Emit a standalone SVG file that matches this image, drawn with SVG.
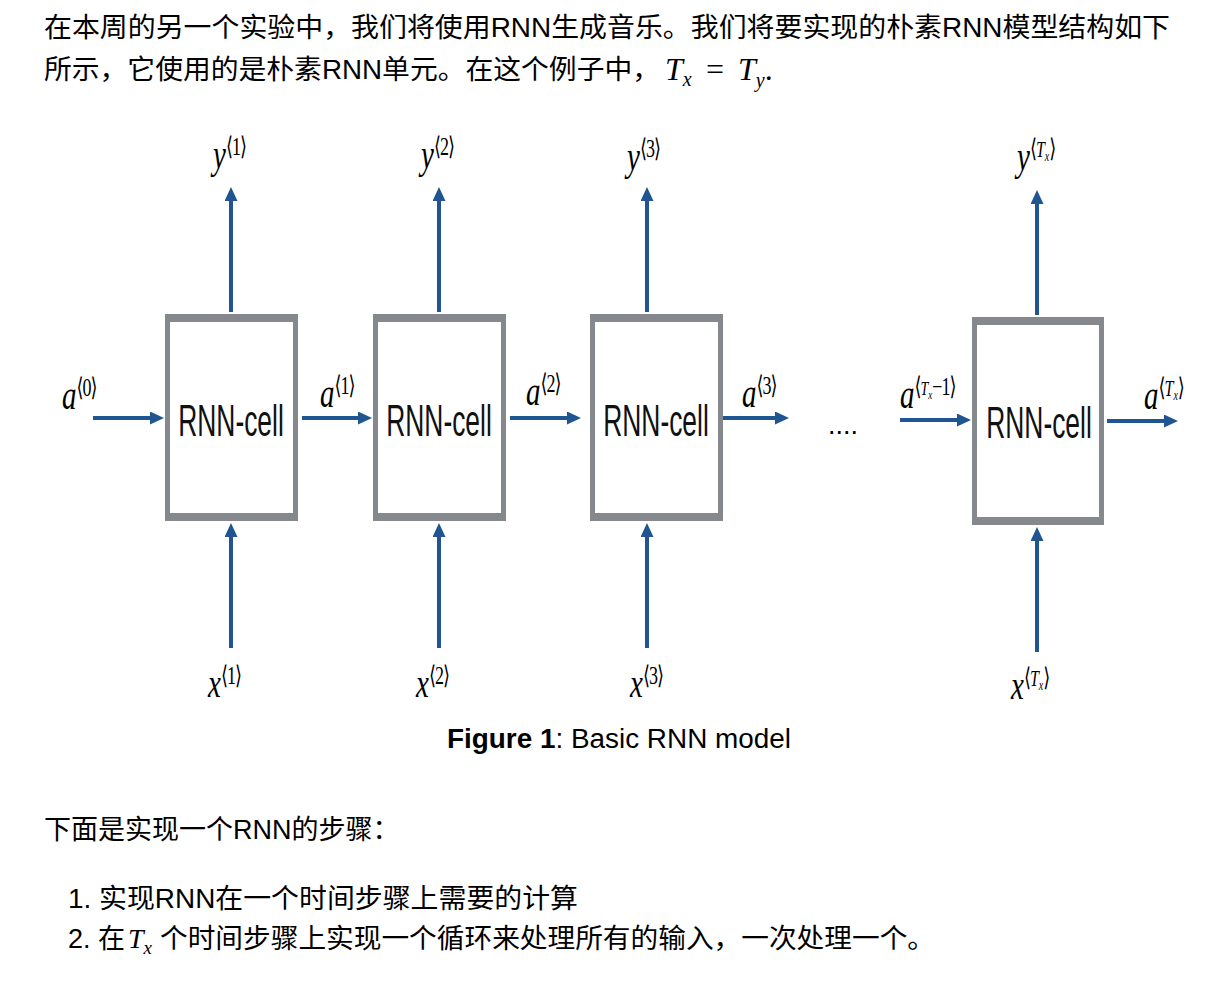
<svg xmlns="http://www.w3.org/2000/svg" width="1214" height="986" viewBox="0 0 1214 986">
<style>
.cn{font-family:"Liberation Sans","Noto Sans CJK SC",sans-serif;font-size:27px;fill:#000}
.mi{font-family:"Liberation Serif","DejaVu Serif",serif;font-style:italic;fill:#000}
.mr{font-family:"Liberation Serif","DejaVu Serif",serif;font-style:normal;fill:#000}
.lb{font-family:"Liberation Serif","DejaVu Serif",serif;font-style:italic;font-size:29px;fill:#000}
.sp{font-style:normal;font-size:18px;letter-spacing:-1px}
.cell{font-family:"Liberation Sans",Arial,sans-serif;font-size:44px;fill:#111;text-anchor:middle}
.box{fill:#85888d;fill-rule:evenodd}
.ar{stroke:#1f5591;stroke-width:4;fill:none}
.cap{font-family:"Liberation Sans",Arial,sans-serif;font-size:27px;fill:#000}
</style>
<defs>
<marker id="ah" viewBox="0 0 14 13" refX="4" refY="6.5" markerWidth="14" markerHeight="13" markerUnits="userSpaceOnUse" orient="auto">
<path d="M0,0 L14,6.5 L0,13 Z" fill="#1f5591"/>
</marker>
</defs>
<rect width="1214" height="986" fill="#fff"/>

<g id="header">
<text class="cn" x="44" y="37" textLength="1126" lengthAdjust="spacingAndGlyphs">在本周的另一个实验中，我们将使用RNN生成音乐。我们将要实现的朴素RNN模型结构如下</text>
<text class="cn" x="44" y="79" textLength="616" lengthAdjust="spacingAndGlyphs">所示，它使用的是朴素RNN单元。在这个例子中，</text>
<text class="mi" x="665" y="80" font-size="32">T<tspan font-size="20" dy="6">x</tspan><tspan class="mr" font-size="32" x="706" dy="-6">=</tspan><tspan x="738" font-size="32">T</tspan><tspan font-size="20" dy="7">y</tspan><tspan class="mr" font-size="32" dy="-7">.</tspan></text>
</g>

<g id="connectors">
<line class="ar" x1="231" y1="312" x2="231" y2="197" marker-end="url(#ah)"/>
<line class="ar" x1="439" y1="312" x2="439" y2="197" marker-end="url(#ah)"/>
<line class="ar" x1="647" y1="312" x2="647" y2="197" marker-end="url(#ah)"/>
<line class="ar" x1="1037" y1="315" x2="1037" y2="200" marker-end="url(#ah)"/>
<line class="ar" x1="231" y1="648" x2="231" y2="533" marker-end="url(#ah)"/>
<line class="ar" x1="439" y1="648" x2="439" y2="533" marker-end="url(#ah)"/>
<line class="ar" x1="647" y1="648" x2="647" y2="533" marker-end="url(#ah)"/>
<line class="ar" x1="1037" y1="652" x2="1037" y2="537" marker-end="url(#ah)"/>
<line class="ar" x1="93" y1="418" x2="154" y2="418" marker-end="url(#ah)"/>
<line class="ar" x1="302" y1="418" x2="362" y2="418" marker-end="url(#ah)"/>
<line class="ar" x1="510" y1="418" x2="571" y2="418" marker-end="url(#ah)"/>
<line class="ar" x1="722" y1="418" x2="779" y2="418" marker-end="url(#ah)"/>
<line class="ar" x1="900" y1="420" x2="961" y2="420" marker-end="url(#ah)"/>
<line class="ar" x1="1107" y1="421" x2="1168" y2="421" marker-end="url(#ah)"/>
</g>

<g id="cell1">
<path class="box" d="M165,314 H298 V521 H165 Z M170,322 V513 H293 V322 Z"/>
<text class="cell" transform="translate(231,436) scale(0.6,1)">RNN-cell</text>
</g>
<g id="cell2">
<path class="box" d="M373,314 H506 V521 H373 Z M378,322 V513 H501 V322 Z"/>
<text class="cell" transform="translate(439,436) scale(0.6,1)">RNN-cell</text>
</g>
<g id="cell3">
<path class="box" d="M590,314 H723 V521 H590 Z M595,322 V513 H718 V322 Z"/>
<text class="cell" transform="translate(656,436) scale(0.6,1)">RNN-cell</text>
</g>
<g id="cell4">
<path class="box" d="M972,317 H1104 V525 H972 Z M977,325 V517 H1099 V325 Z"/>
<text class="cell" transform="translate(1039,438) scale(0.6,1)">RNN-cell</text>
</g>

<g id="dots"><text class="cap" x="828" y="434" font-size="24">....</text></g>

<g id="y1" transform="translate(213,168) scale(1,1.42)"><text class="lb">y<tspan class="sp" dy="-9">⟨1⟩</tspan></text></g>
<g id="y2" transform="translate(421,168) scale(1,1.42)"><text class="lb">y<tspan class="sp" dy="-9">⟨2⟩</tspan></text></g>
<g id="y3" transform="translate(627,170) scale(1,1.42)"><text class="lb">y<tspan class="sp" dy="-9">⟨3⟩</tspan></text></g>
<g id="yTx" transform="translate(1017,170) scale(1,1.42)"><text class="lb">y<tspan class="sp" dy="-9">⟨</tspan><tspan font-size="16">T</tspan><tspan font-size="10" dy="3">x</tspan><tspan class="sp" dy="-3">⟩</tspan></text></g>

<g id="x1" transform="translate(208,697) scale(1,1.42)"><text class="lb">x<tspan class="sp" dy="-9">⟨1⟩</tspan></text></g>
<g id="x2" transform="translate(416,697) scale(1,1.42)"><text class="lb">x<tspan class="sp" dy="-9">⟨2⟩</tspan></text></g>
<g id="x3" transform="translate(630,697) scale(1,1.42)"><text class="lb">x<tspan class="sp" dy="-9">⟨3⟩</tspan></text></g>
<g id="xTx" transform="translate(1011,699) scale(1,1.42)"><text class="lb">x<tspan class="sp" dy="-9">⟨</tspan><tspan font-size="16">T</tspan><tspan font-size="10" dy="3">x</tspan><tspan class="sp" dy="-3">⟩</tspan></text></g>

<g id="a0" transform="translate(62,409) scale(1,1.42)"><text class="lb">a<tspan class="sp" dy="-9">⟨0⟩</tspan></text></g>
<g id="a1" transform="translate(320,407) scale(1,1.42)"><text class="lb">a<tspan class="sp" dy="-9">⟨1⟩</tspan></text></g>
<g id="a2" transform="translate(526,405) scale(1,1.42)"><text class="lb">a<tspan class="sp" dy="-9">⟨2⟩</tspan></text></g>
<g id="a3" transform="translate(742,407) scale(1,1.42)"><text class="lb">a<tspan class="sp" dy="-9">⟨3⟩</tspan></text></g>
<g id="aTx1" transform="translate(900,408) scale(1,1.42)"><text class="lb" font-size="26">a<tspan class="sp" font-size="15" dy="-9">⟨</tspan><tspan font-size="14">T</tspan><tspan font-size="9" dy="3">x</tspan><tspan class="sp" font-size="15" dy="-3">−1⟩</tspan></text></g>
<g id="aTx" transform="translate(1144,409) scale(1,1.42)"><text class="lb">a<tspan class="sp" dy="-9">⟨</tspan><tspan font-size="16">T</tspan><tspan font-size="10" dy="3">x</tspan><tspan class="sp" dy="-3">⟩</tspan></text></g>

<g id="caption">
<text class="cap" x="447" y="748" textLength="344" lengthAdjust="spacingAndGlyphs"><tspan font-weight="bold">Figure 1</tspan>: Basic RNN model</text>
</g>

<g id="steps">
<text class="cn" x="44" y="839">下面是实现一个RNN的步骤：</text>
<text class="cn" x="68" y="908" textLength="510" lengthAdjust="spacingAndGlyphs">1. 实现RNN在一个时间步骤上需要的计算</text>
<text class="cn" x="68" y="948">2. 在<tspan class="mi" x="128" font-size="28">T</tspan><tspan class="mi" font-size="19" dy="6">x</tspan><tspan x="160" dy="-6" textLength="775" lengthAdjust="spacingAndGlyphs">个时间步骤上实现一个循环来处理所有的输入，一次处理一个。</tspan></text>
</g>
</svg>
